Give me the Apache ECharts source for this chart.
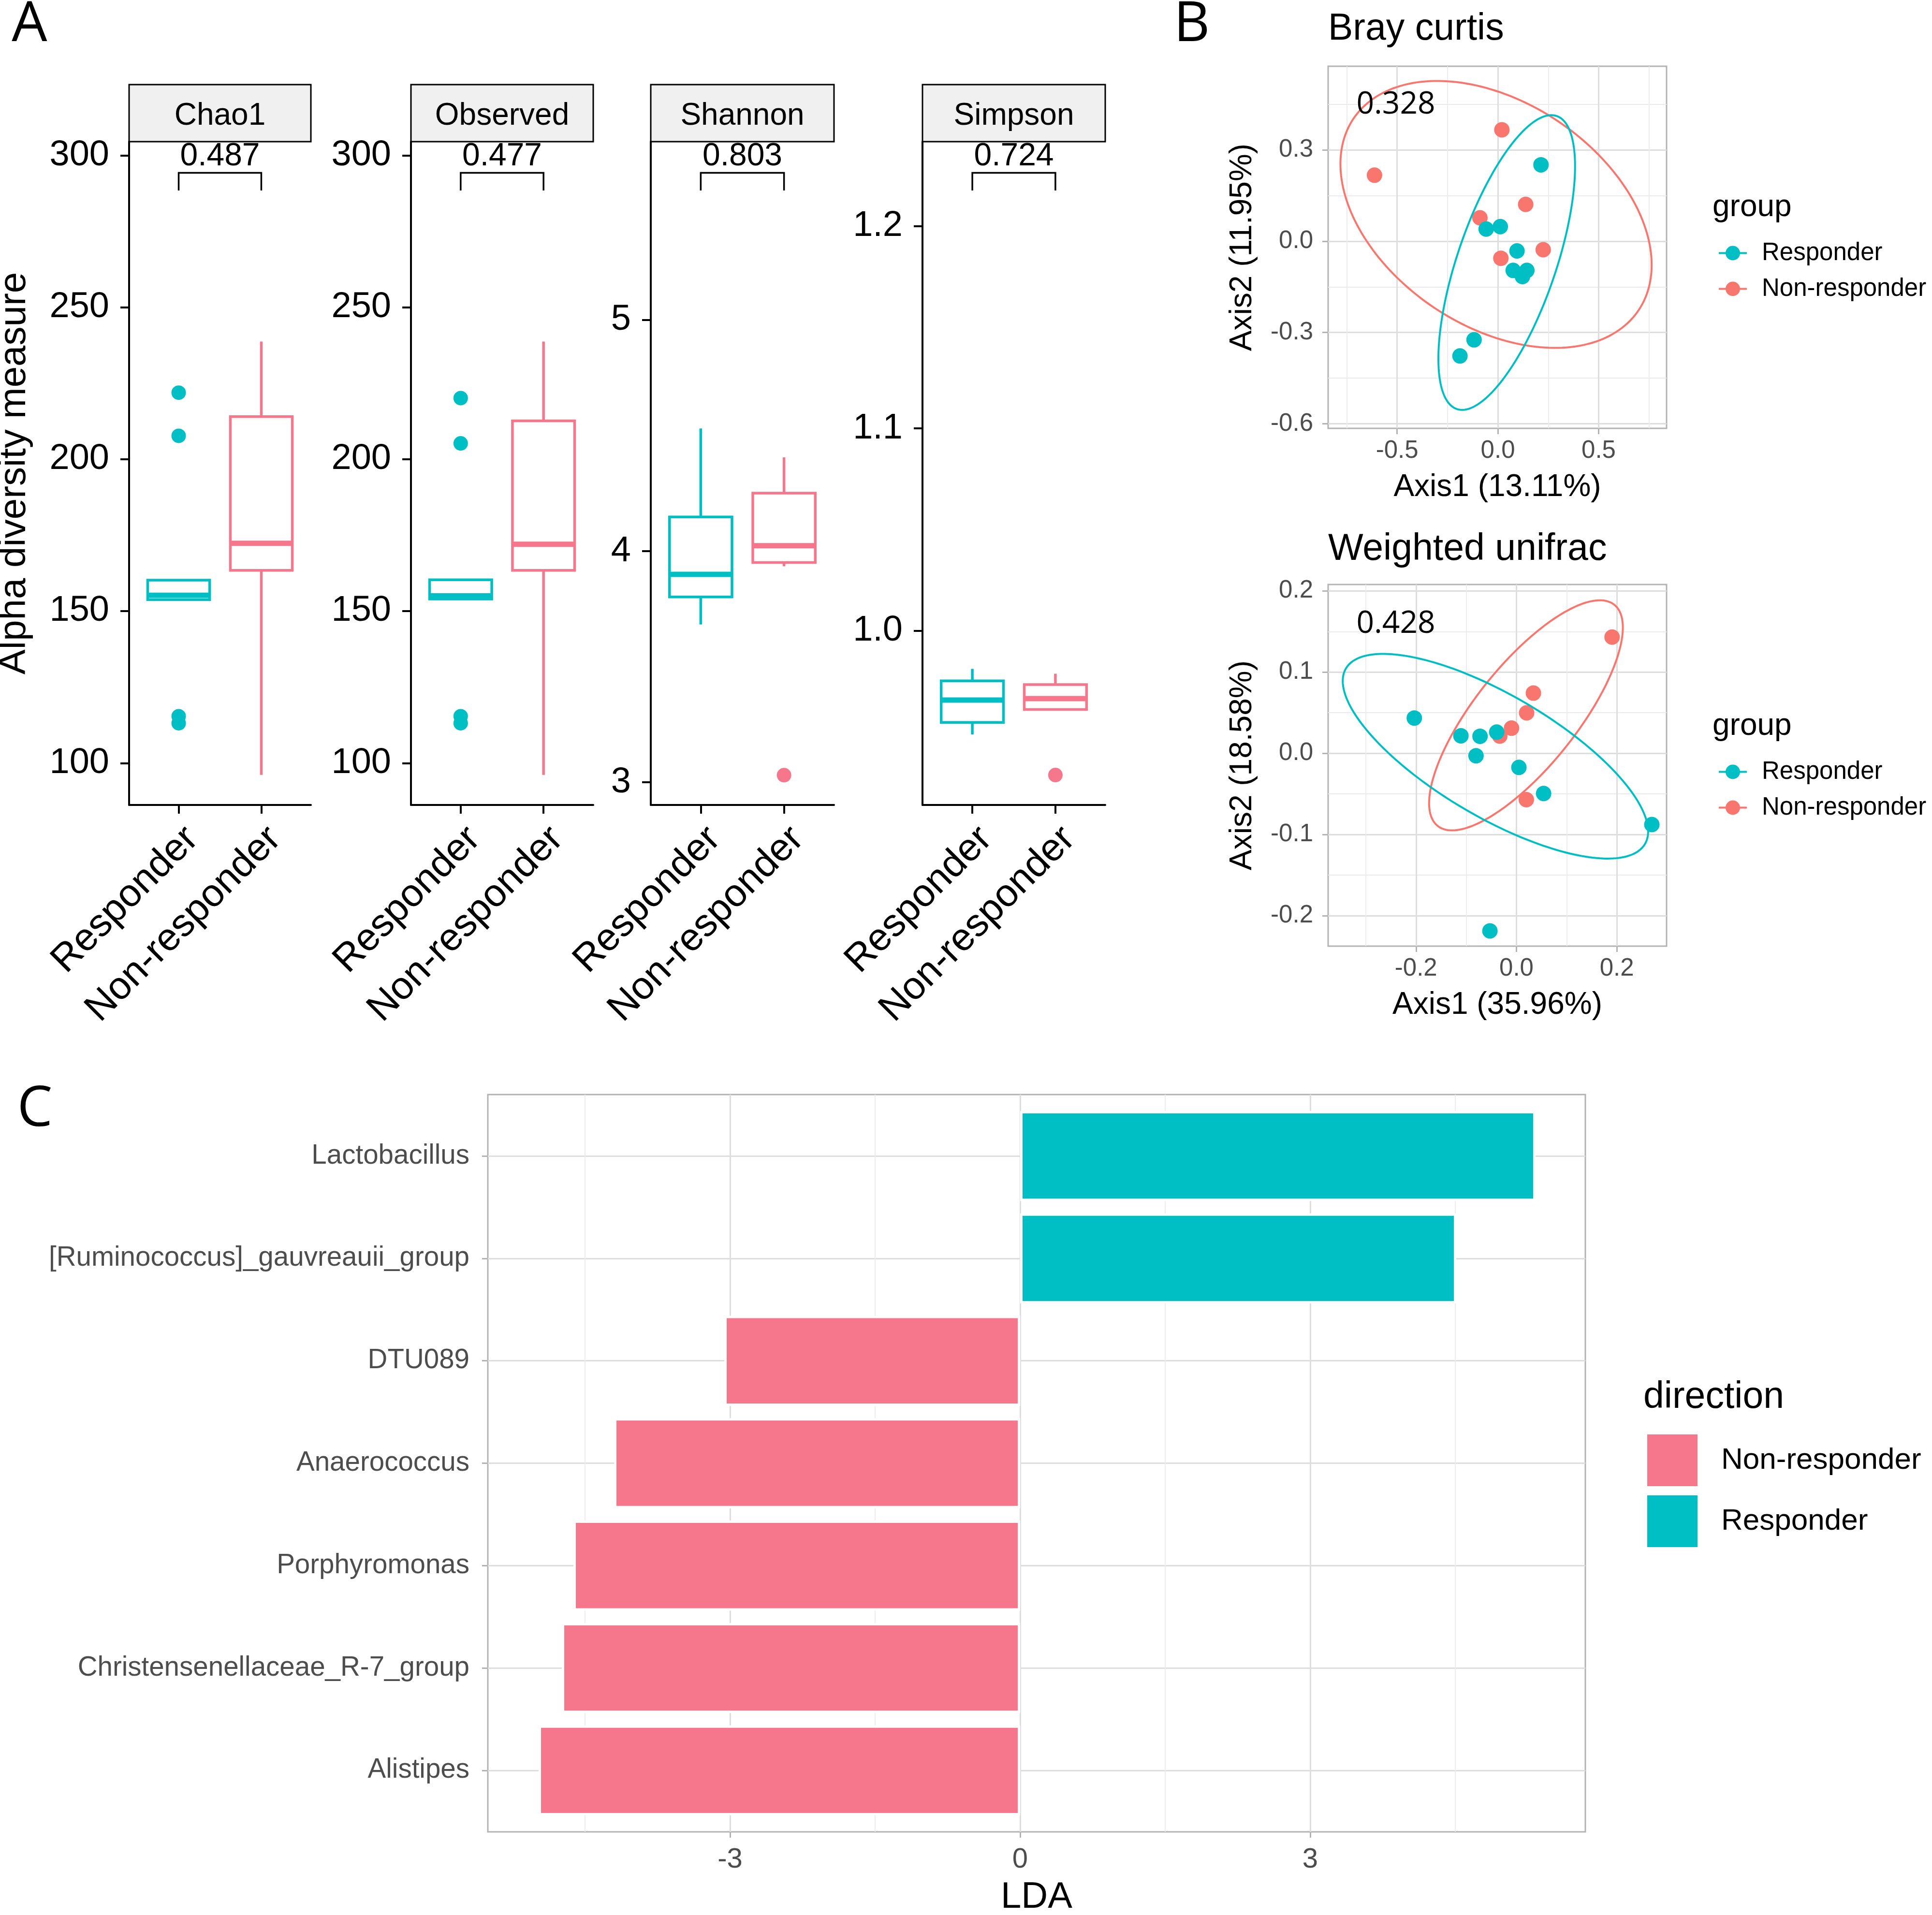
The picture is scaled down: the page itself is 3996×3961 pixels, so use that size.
<!DOCTYPE html>
<html><head><meta charset="utf-8">
<script src="https://cdn.jsdelivr.net/npm/echarts@6/dist/echarts.min.js"></script>
<style>html,body{margin:0;padding:0;background:#fff}#c{width:3996px;height:3961px}</style>
</head><body><div id="c"></div>
<script>
// ================= DATA =================
const groups = ['Responder', 'Non-responder'];
const alphaMetrics = ['Chao1', 'Observed', 'Shannon', 'Simpson'];
const alphaPvalues = ['0.487', '0.477', '0.803', '0.724'];
// [lower whisker, Q1, median, Q3, upper whisker] for [Responder, Non-responder]
const chao1Box = [[153.8, 153.8, 155.2, 160.2, 160.2], [96.1, 163.4, 172.3, 214.0, 238.7]];
const observedBox = [[154.0, 154.0, 155.0, 160.3, 160.3], [96.1, 163.4, 172.0, 212.6, 238.7]];
const shannonBox = [[3.683, 3.802, 3.900, 4.148, 4.531], [3.935, 3.951, 4.024, 4.251, 4.406]];
const simpsonBox = [[0.9487, 0.9546, 0.9657, 0.9752, 0.9811], [0.9610, 0.9610, 0.9664, 0.9733, 0.9787]];
const chao1Outliers = [[221.9, 207.7, 115.4, 113.1], []];
const observedOutliers = [[220.1, 205.2, 115.4, 113.1], []];
const shannonOutliers = [[], [3.031]];
const simpsonOutliers = [[], [0.9286]];
const alphaTicks = [[100, 150, 200, 250, 300], [100, 150, 200, 250, 300], [3, 4, 5], [1.0, 1.1, 1.2]];
const alphaTickDecimals = [0, 0, 0, 1];
const alphaRanges = [[86.2, 304.5], [86.2, 304.5], [2.902, 5.772], [0.9138, 1.2418]];

// PCoA Bray curtis
const brayResponderX = [0.214, -0.058, 0.012, 0.095, 0.076, 0.144, 0.122, -0.118, -0.188];
const brayResponderY = [0.251, 0.040, 0.048, -0.032, -0.096, -0.096, -0.116, -0.324, -0.377];
const brayNonResponderX = [-0.612, 0.020, 0.138, -0.089, 0.015, 0.225];
const brayNonResponderY = [0.217, 0.366, 0.121, 0.077, -0.056, -0.028];
// ellipse: [centerX, centerY, semi-diameter 1 (dx, dy), semi-diameter 2 (dx, dy)]
const brayEllipseResponder = [0.044, -0.070, 0.339, 0.316, 0, -0.367];
const brayEllipseNonResponder = [-0.009, 0.088, 0.772, -0.166, 0, -0.406];
const brayTicksX = [-0.5, 0, 0.5], brayMinorX = [-0.75, -0.25, 0.25, 0.75];
const brayTicksY = [-0.6, -0.3, 0, 0.3], brayMinorY = [-0.45, -0.15, 0.15, 0.45];

// PCoA Weighted unifrac
const wuResponderX = [-0.2034, -0.1106, -0.0725, -0.0393, -0.0805, 0.0049, 0.0541, 0.2697, -0.0528];
const wuResponderY = [0.0435, 0.0216, 0.0210, 0.0261, -0.0030, -0.0173, -0.0495, -0.0878, -0.2188];
const wuNonResponderX = [0.1905, 0.0338, 0.0203, -0.0098, -0.0332, 0.0197];
const wuNonResponderY = [0.1432, 0.0742, 0.0498, 0.0310, 0.0213, -0.0571];
const wuEllipseResponder = [-0.0418, -0.0036, 0.3041, -0.0927, 0, -0.0855];
const wuEllipseNonResponder = [0.0190, 0.0468, 0.1929, 0.1082, 0, -0.0916];
const wuTicksX = [-0.2, 0, 0.2], wuMinorX = [-0.3, -0.1, 0.1];
const wuTicksY = [-0.2, -0.1, 0, 0.1, 0.2], wuMinorY = [-0.15, -0.05, 0.05, 0.15];

// LDA (panel C)
const ldaTaxa = ['Lactobacillus', '[Ruminococcus]_gauvreauii_group', 'DTU089', 'Anaerococcus',
  'Porphyromonas', 'Christensenellaceae_R-7_group', 'Alistipes'];
const ldaValues = [5.33, 4.51, -3.06, -4.20, -4.62, -4.74, -4.98];
const ldaDirection = ['Responder', 'Responder', 'Non-responder', 'Non-responder',
  'Non-responder', 'Non-responder', 'Non-responder'];
const ldaTicks = [-3, 0, 3], ldaMinor = [-4.5, -1.5, 1.5, 4.5];

// ================= STYLE / LAYOUT =================
const FONT = 'Liberation Sans';
const FONT2 = 'Open Sans';
const TEAL = '#00BFC4', PINK = '#F6778C', SALMON = '#F8766D';
const GREY30 = '#4D4D4D', GREY70 = '#B3B3B3', GRID_MAJ = '#DEDEDE', GRID_MIN = '#EBEBEB';
const aPanels = [{left: 267, width: 376}, {left: 850, width: 377}, {left: 1346, width: 379}, {left: 1908, width: 378}];
const aTop = 293, aHeight = 1372;
const boxes = [chao1Box, observedBox, shannonBox, simpsonBox];
const outliers = [chao1Outliers, observedOutliers, shannonOutliers, simpsonOutliers];
const groupColorsA = [TEAL, PINK];

const grid = [], xAxis = [], yAxis = [], series = [], graphic = [];

// ---- Panel A ----
aPanels.forEach((p, i) => {
  grid.push({left: p.left, top: aTop, width: p.width, height: aHeight, show: false, outerBoundsMode: 'none'});
  xAxis.push({
    gridIndex: i, type: 'value', min: 0.4, max: 2.6,
    axisLine: {show: true, onZero: false, lineStyle: {color: '#000', width: 4}},
    axisTick: {show: true, length: 18, customValues: [1, 2], lineStyle: {color: '#000', width: 4}},
    axisLabel: {customValues: [1, 2], formatter: v => groups[Math.round(v) - 1], rotate: 45,
      fontSize: 80, fontFamily: FONT, color: '#000', margin: 30, align: 'right', verticalAlign: 'top'},
    splitLine: {show: false}
  });
  yAxis.push({
    gridIndex: i, type: 'value', min: alphaRanges[i][0], max: alphaRanges[i][1],
    axisLine: {show: true, onZero: false, lineStyle: {color: '#000', width: 4}},
    axisTick: {show: true, length: 18, customValues: alphaTicks[i], lineStyle: {color: '#000', width: 4}},
    axisLabel: {customValues: alphaTicks[i], formatter: v => Number(v).toFixed(alphaTickDecimals[i]),
      fontSize: 74, fontFamily: FONT, color: '#000', margin: 41},
    splitLine: {show: false},
    name: i === 0 ? 'Alpha diversity measure' : '', nameLocation: 'middle', nameGap: 198, nameRotate: 90,
    nameTextStyle: {fontSize: 78, fontFamily: FONT, color: '#000'}
  });
  // boxes
  series.push({
    type: 'custom', name: alphaMetrics[i] + ' box', xAxisIndex: i, yAxisIndex: i, silent: true, z: 2,
    data: groups.map((g, k) => [k + 1].concat(boxes[i][k])),
    encode: {x: 0, y: [1, 2, 3, 4, 5]},
    renderItem: function (params, api) {
      const x = api.value(0);
      const lo = api.coord([x, api.value(1)]), q1 = api.coord([x, api.value(2)]);
      const med = api.coord([x, api.value(3)]), q3 = api.coord([x, api.value(4)]);
      const hi = api.coord([x, api.value(5)]);
      const half = api.size([0.75, 0])[0] / 2;
      const c = groupColorsA[x - 1];
      return {type: 'group', children: [
        {type: 'line', shape: {x1: lo[0], y1: lo[1], x2: q1[0], y2: q1[1]}, style: {stroke: c, lineWidth: 5.5}},
        {type: 'line', shape: {x1: q3[0], y1: q3[1], x2: hi[0], y2: hi[1]}, style: {stroke: c, lineWidth: 5.5}},
        {type: 'rect', shape: {x: q3[0] - half, y: q3[1], width: 2 * half, height: q1[1] - q3[1]},
          style: {stroke: c, lineWidth: 5.5, fill: '#fff'}},
        {type: 'line', shape: {x1: med[0] - half, y1: med[1], x2: med[0] + half, y2: med[1]},
          style: {stroke: c, lineWidth: 11}}
      ]};
    }
  });
  // outliers
  groups.forEach((g, k) => {
    series.push({
      type: 'scatter', name: alphaMetrics[i] + ' ' + g + ' outliers', xAxisIndex: i, yAxisIndex: i, z: 3,
      symbolSize: 30, silent: true,
      itemStyle: {color: groupColorsA[k], opacity: 1},
      data: outliers[i][k].map(v => [k + 1, v])
    });
  });
  // p-value bracket
  series.push({
    type: 'custom', name: alphaMetrics[i] + ' p', xAxisIndex: i, yAxisIndex: i, clip: false, silent: true, z: 5,
    data: [[1, 2]],
    renderItem: function (params, api) {
      const y0 = alphaRanges[i][0];
      const xa = api.coord([api.value(0), y0])[0];
      const xb = api.coord([api.value(1), y0])[0];
      const top = params.coordSys.y;
      const yb = top + 64.5, yl = top + 101;
      return {type: 'group', children: [
        {type: 'polyline', shape: {points: [[xa, yl], [xa, yb], [xb, yb], [xb, yl]]},
          style: {stroke: '#000', lineWidth: 3.5, fill: 'none'}},
        {type: 'text', x: (xa + xb) / 2, y: top + 31,
          style: {text: alphaPvalues[i], fontSize: 66, fontFamily: FONT, fill: '#000', align: 'center', verticalAlign: 'middle'}}
      ]};
    }
  });
  // strip
  graphic.push({type: 'rect', shape: {x: p.left, y: 175, width: p.width, height: 118},
    style: {fill: '#F0F0F0', stroke: '#000', lineWidth: 3}, z: 10});
  graphic.push({type: 'text', x: p.left + p.width / 2, y: 240, z: 11,
    style: {text: alphaMetrics[i], fontSize: 64, fontFamily: FONT, fill: '#000', align: 'center', verticalAlign: 'middle'}});
});

// ---- Panel B ----
function ellipseSeries(name, params, color, xi, yi) {
  return {
    type: 'custom', name: name, xAxisIndex: xi, yAxisIndex: yi, silent: true, z: 4, clip: true,
    data: [params],
    renderItem: function (p, api) {
      const cx = api.value(0), cy = api.value(1), ax = api.value(2), ay = api.value(3), bx = api.value(4), by = api.value(5);
      const pts = [];
      for (let k = 0; k < 200; k++) {
        const t = 2 * Math.PI * k / 200;
        pts.push(api.coord([cx + ax * Math.cos(t) + bx * Math.sin(t), cy + ay * Math.cos(t) + by * Math.sin(t)]));
      }
      return {type: 'polygon', shape: {points: pts}, style: {fill: 'none', stroke: color, lineWidth: 4}};
    }
  };
}
function pcoaPanel(gi, xi, yi, cfg) {
  grid.push({left: 2747, top: cfg.top, width: 700, height: cfg.height, show: true, borderColor: GREY70, borderWidth: 3,
    backgroundColor: '#fff', outerBoundsMode: 'none'});
  xAxis.push({gridIndex: gi, type: 'value', position: 'bottom', min: cfg.xr[0], max: cfg.xr[1],
    axisLine: {show: false, onZero: false},
    axisTick: {show: true, length: 12, customValues: cfg.tx, lineStyle: {color: GREY70, width: 3}},
    axisLabel: {customValues: cfg.tx, formatter: v => Number(v).toFixed(1), fontSize: 51, fontFamily: FONT, color: GREY30, margin: 21},
    splitLine: {show: true, lineStyle: {color: GRID_MAJ, width: 3}},
    name: cfg.xname, nameLocation: 'middle', nameGap: 90, nameTextStyle: {fontSize: 64, fontFamily: FONT, color: '#000'}});
  xAxis.push({gridIndex: gi, type: 'value', position: 'top', min: cfg.xr[0], max: cfg.xr[1],
    axisLine: {show: false, onZero: false}, axisTick: {show: false, customValues: cfg.mx},
    axisLabel: {show: false, customValues: cfg.mx},
    splitLine: {show: true, lineStyle: {color: GRID_MIN, width: 1.8}}});
  yAxis.push({gridIndex: gi, type: 'value', position: 'left', min: cfg.yr[0], max: cfg.yr[1],
    axisLine: {show: false, onZero: false},
    axisTick: {show: true, length: 12, customValues: cfg.ty, lineStyle: {color: GREY70, width: 3}},
    axisLabel: {customValues: cfg.ty, formatter: v => Number(v).toFixed(1), fontSize: 51, fontFamily: FONT, color: GREY30, margin: 31},
    splitLine: {show: true, lineStyle: {color: GRID_MAJ, width: 3}},
    name: cfg.yname, nameLocation: 'middle', nameGap: 145, nameRotate: 90, nameTextStyle: {fontSize: 64, fontFamily: FONT, color: '#000'}});
  yAxis.push({gridIndex: gi, type: 'value', position: 'right', min: cfg.yr[0], max: cfg.yr[1],
    axisLine: {show: false, onZero: false}, axisTick: {show: false, customValues: cfg.my},
    axisLabel: {show: false, customValues: cfg.my},
    splitLine: {show: true, lineStyle: {color: GRID_MIN, width: 1.8}}});
  series.push({type: 'scatter', name: 'Non-responder', xAxisIndex: xi, yAxisIndex: yi, symbolSize: 32, z: 3, silent: true,
    itemStyle: {color: SALMON, opacity: 1}, data: cfg.nrX.map((x, k) => [x, cfg.nrY[k]])});
  series.push({type: 'scatter', name: 'Responder', xAxisIndex: xi, yAxisIndex: yi, symbolSize: 32, z: 3, silent: true,
    itemStyle: {color: TEAL, opacity: 1}, data: cfg.rX.map((x, k) => [x, cfg.rY[k]])});
  series.push(ellipseSeries('Non-responder ellipse', cfg.eNR, SALMON, xi, yi));
  series.push(ellipseSeries('Responder ellipse', cfg.eR, TEAL, xi, yi));
}
pcoaPanel(4, 4, 4, {top: 137, height: 749, xr: [-0.842, 0.837], yr: [-0.615, 0.575],
  tx: brayTicksX, mx: brayMinorX, ty: brayTicksY, my: brayMinorY,
  xname: 'Axis1 (13.11%)', yname: 'Axis2 (11.95%)',
  rX: brayResponderX, rY: brayResponderY, nrX: brayNonResponderX, nrY: brayNonResponderY,
  eR: brayEllipseResponder, eNR: brayEllipseNonResponder});
pcoaPanel(5, 6, 6, {top: 1209, height: 748, xr: [-0.375, 0.299], yr: [-0.2376, 0.208],
  tx: wuTicksX, mx: wuMinorX, ty: wuTicksY, my: wuMinorY,
  xname: 'Axis1 (35.96%)', yname: 'Axis2 (18.58%)',
  rX: wuResponderX, rY: wuResponderY, nrX: wuNonResponderX, nrY: wuNonResponderY,
  eR: wuEllipseResponder, eNR: wuEllipseNonResponder});

// ---- Panel C ----
const cRange = [-5.505, 5.845];
grid.push({left: 1009, top: 2264, width: 2270, height: 1525, show: true, borderColor: GREY70, borderWidth: 3,
  backgroundColor: '#fff', outerBoundsMode: 'none'}); // 6
grid.push({left: 1009, top: 2285.2, width: 2270, height: 1482.6, show: false, outerBoundsMode: 'none'}); // 7
xAxis.push({gridIndex: 6, type: 'value', position: 'bottom', min: cRange[0], max: cRange[1],
  axisLine: {show: false, onZero: false},
  axisTick: {show: true, length: 12, customValues: ldaTicks, lineStyle: {color: GREY70, width: 3}},
  axisLabel: {customValues: ldaTicks, formatter: v => String(Math.round(v)), fontSize: 58, fontFamily: FONT, color: GREY30, margin: 29},
  splitLine: {show: true, lineStyle: {color: GRID_MAJ, width: 3}},
  name: 'LDA', nameLocation: 'middle', nameGap: 98, nameTextStyle: {fontSize: 76, fontFamily: FONT, color: '#000'}}); // 8
xAxis.push({gridIndex: 6, type: 'value', position: 'top', min: cRange[0], max: cRange[1],
  axisLine: {show: false, onZero: false}, axisTick: {show: false, customValues: ldaMinor},
  axisLabel: {show: false, customValues: ldaMinor},
  splitLine: {show: true, lineStyle: {color: GRID_MIN, width: 1.8}}}); // 9
xAxis.push({gridIndex: 7, type: 'value', min: cRange[0], max: cRange[1], show: false}); // 10
const catPos = ldaTaxa.map((t, k) => k + 1);
yAxis.push({gridIndex: 6, type: 'value', min: 0.4, max: 7.6, inverse: true,
  axisLine: {show: false, onZero: false},
  axisTick: {show: true, length: 12, customValues: catPos, lineStyle: {color: GREY70, width: 3}},
  axisLabel: {customValues: catPos, formatter: v => ldaTaxa[Math.round(v) - 1], fontSize: 56.5, fontFamily: FONT, color: GREY30, margin: 38},
  splitLine: {show: true, lineStyle: {color: GRID_MAJ, width: 3}}}); // 8
yAxis.push({gridIndex: 7, type: 'category', data: ldaTaxa, inverse: true, show: false}); // 9
['Non-responder', 'Responder'].forEach(dir => {
  series.push({type: 'bar', name: dir, xAxisIndex: 10, yAxisIndex: 9, stack: 'lda', barWidth: '88%', silent: true,
    itemStyle: {color: dir === 'Responder' ? TEAL : PINK, borderColor: '#fff', borderWidth: 5},
    data: ldaValues.map((v, k) => ldaDirection[k] === dir ? v : '-')});
});

// ---- free text ----
function txt(text, x, y, size, opts) {
  return Object.assign({type: 'text', x: x, y: y, z: 20,
    style: Object.assign({text: text, fontSize: size, fontFamily: FONT, fill: '#000', align: 'left', verticalAlign: 'middle'}, opts || {})});
}
graphic.push(txt('A', 61, 52, 116, {fontFamily: FONT2, align: 'center'}));
graphic.push(txt('B', 2465, 52, 116, {fontFamily: FONT2, align: 'center'}));
graphic.push(txt('C', 72, 2296, 116, {fontFamily: FONT2, align: 'center'}));
graphic.push(txt('Bray curtis', 2747, 61, 77));
graphic.push(txt('Weighted unifrac', 2747, 1137, 77));
graphic.push(txt('0.328', 2887, 217, 64, {fontFamily: FONT2, align: 'center'}));
graphic.push(txt('0.428', 2887, 1291, 64, {fontFamily: FONT2, align: 'center'}));
graphic.push(txt('group', 3542, 429, 64));
graphic.push(txt('group', 3542, 1502, 64));
graphic.push(txt('direction', 3399, 2891, 77));

const keyIcon = 'path://M0,13H58V17H0Z M14,15A15,15,0,1,1,44,15A15,15,0,1,1,14,15Z';
function pcoaLegend(top) {
  return {orient: 'vertical', left: 3555, top: top, padding: 0, itemWidth: 58, itemHeight: 30, itemGap: 23,
    selectedMode: false, textStyle: {fontSize: 51, fontFamily: FONT, color: '#000', padding: [0, 0, 0, 26]},
    data: [{name: 'Responder', icon: keyIcon, itemStyle: {color: TEAL, borderWidth: 0}},
           {name: 'Non-responder', icon: keyIcon, itemStyle: {color: SALMON, borderWidth: 0}}]};
}

const option = {
  animation: false,
  backgroundColor: '#fff',
  textStyle: {fontFamily: FONT},
  grid: grid, xAxis: xAxis, yAxis: yAxis, series: series, graphic: graphic,
  legend: [
    pcoaLegend(498),
    pcoaLegend(1571),
    {orient: 'vertical', left: 3407, top: 2967, padding: 0, itemWidth: 104, itemHeight: 107, itemGap: 19,
      selectedMode: false, textStyle: {fontSize: 62, fontFamily: FONT, color: '#000', padding: [8, 0, 0, 44]},
      data: [{name: 'Non-responder', icon: 'rect', itemStyle: {color: PINK, borderWidth: 0}},
             {name: 'Responder', icon: 'rect', itemStyle: {color: TEAL, borderWidth: 0}}]}
  ]
};
const chart = echarts.init(document.getElementById('c'), null, {renderer: 'canvas'});
chart.setOption(option);
</script>
</body></html>
